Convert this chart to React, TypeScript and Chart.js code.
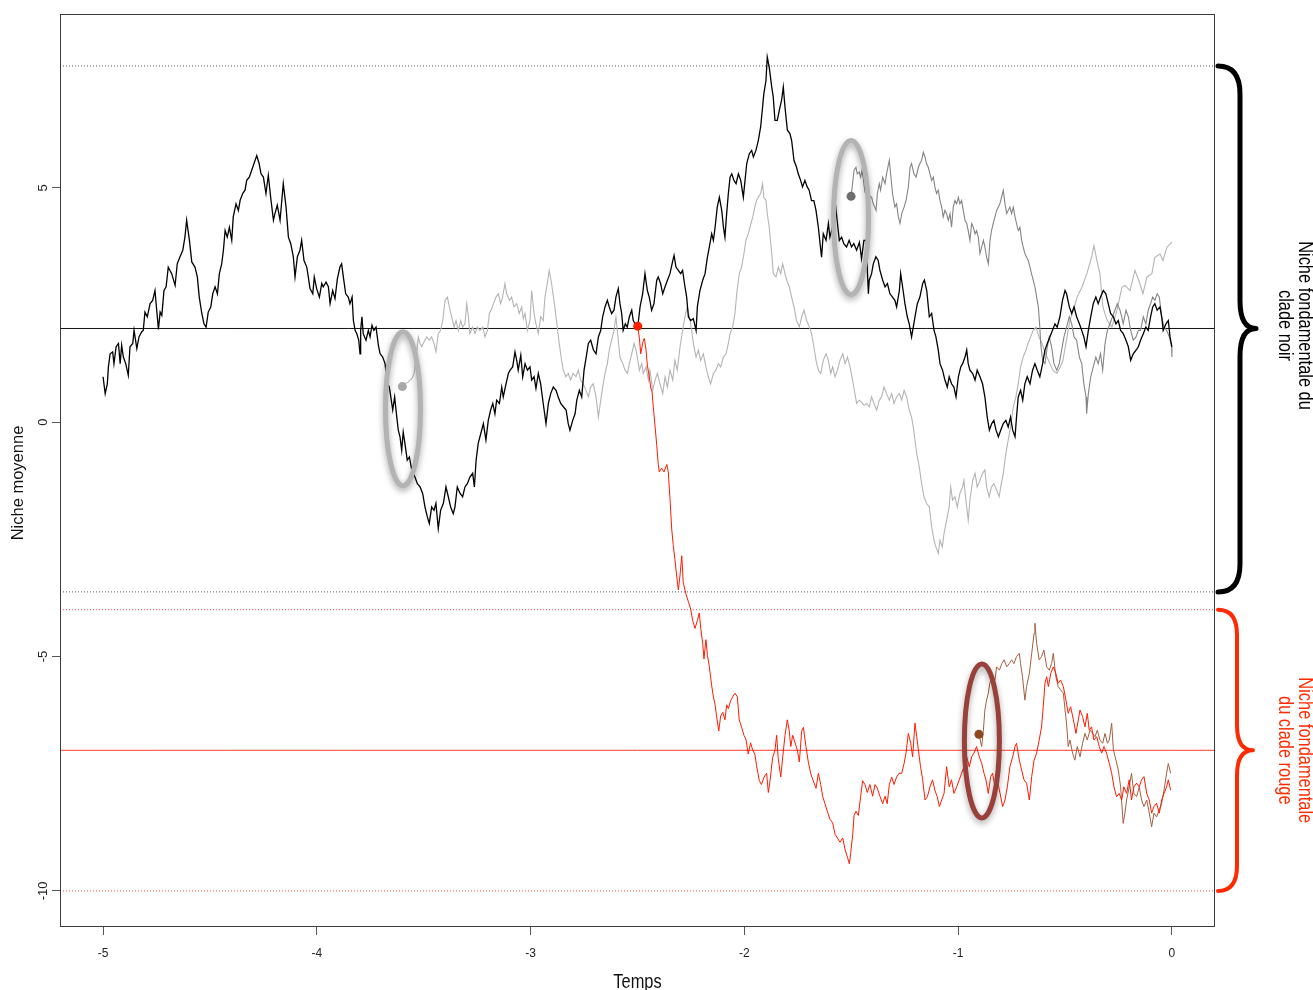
import React, { useEffect, useRef } from 'react';
import { Chart, registerables } from 'chart.js';

Chart.register(...registerables);

// ---------- axis settings ----------
const xTickValues = [-5, -4, -3, -2, -1, 0];
const yTickValues = [-10, -5, 0, 5];
const X_MIN = -5.2014;
const X_MAX = 0.2014;
const Y_MIN = -10.77;
const Y_MAX = 8.71;

// ---------- niche reference levels ----------
const blackNicheOptimum = 2.0;
const blackNicheBounds = [7.6, -3.62];
const redNicheOptimum = -7.0;
const redNicheBounds = [-4.0, -10.0];

// ---------- trait trajectories [time, mean niche] ----------
const blackLineage: [number, number][] = [
  [-5.0, 0.97], [-4.99, 0.61], [-4.98, 0.82], [-4.975, 1.18], [-4.967, 1.46], [-4.955, 1.5], [-4.949, 1.25], [-4.939, 1.61], [-4.928, 1.68], [-4.92, 1.25],
  [-4.913, 1.64], [-4.905, 1.39], [-4.894, 1.25], [-4.882, 1.0], [-4.874, 1.61], [-4.861, 1.68], [-4.855, 1.96], [-4.842, 1.57], [-4.832, 1.82], [-4.819, 1.93],
  [-4.812, 1.96], [-4.804, 2.35], [-4.793, 2.25], [-4.78, 2.53], [-4.768, 2.6], [-4.757, 2.81], [-4.749, 2.39], [-4.741, 1.98], [-4.733, 2.35], [-4.725, 2.28],
  [-4.715, 2.81], [-4.705, 2.89], [-4.695, 3.31], [-4.679, 3.17], [-4.663, 2.92], [-4.653, 3.38], [-4.64, 3.53], [-4.627, 3.67], [-4.617, 3.95], [-4.609, 4.31],
  [-4.596, 3.88], [-4.585, 3.42], [-4.57, 3.31], [-4.559, 3.1], [-4.55, 2.67], [-4.538, 2.32], [-4.528, 2.1], [-4.518, 2.03], [-4.508, 2.35], [-4.496, 2.46],
  [-4.487, 2.74], [-4.476, 2.89], [-4.465, 2.74], [-4.456, 3.17], [-4.445, 3.38], [-4.437, 3.67], [-4.429, 4.09], [-4.419, 3.95], [-4.409, 4.16], [-4.398, 3.88],
  [-4.391, 4.38], [-4.378, 4.66], [-4.367, 4.52], [-4.359, 4.73], [-4.347, 4.88], [-4.336, 4.95], [-4.328, 5.16], [-4.316, 5.23], [-4.305, 5.37], [-4.294, 5.52],
  [-4.281, 5.69], [-4.27, 5.52], [-4.261, 5.3], [-4.25, 5.23], [-4.238, 4.88], [-4.227, 5.27], [-4.216, 4.8], [-4.203, 4.31], [-4.196, 4.45], [-4.185, 4.63],
  [-4.172, 4.31], [-4.157, 5.09], [-4.144, 4.59], [-4.133, 3.95], [-4.122, 3.81], [-4.11, 3.53], [-4.102, 3.1], [-4.091, 3.53], [-4.079, 3.67], [-4.071, 3.88],
  [-4.06, 3.45], [-4.047, 3.31], [-4.04, 3.1], [-4.032, 2.85], [-4.019, 2.74], [-4.012, 3.1], [-4.001, 2.85], [-3.988, 2.67], [-3.977, 2.96], [-3.97, 2.89],
  [-3.957, 2.99], [-3.946, 2.89], [-3.938, 2.53], [-3.926, 2.81], [-3.915, 2.64], [-3.904, 3.06], [-3.892, 3.31], [-3.884, 3.38], [-3.876, 3.1], [-3.865, 2.74],
  [-3.853, 2.67], [-3.845, 2.53], [-3.835, 2.67], [-3.829, 2.17], [-3.821, 1.96], [-3.813, 1.89], [-3.804, 1.75], [-3.798, 1.46], [-3.795, 1.96], [-3.789, 2.25],
  [-3.783, 1.89], [-3.77, 1.75], [-3.759, 1.96], [-3.751, 1.82], [-3.742, 2.07], [-3.733, 1.96], [-3.723, 2.03], [-3.712, 1.64], [-3.704, 1.46], [-3.692, 1.39],
  [-3.681, 1.25], [-3.67, 0.82], [-3.661, 0.75], [-3.654, 0.54], [-3.645, 0.26], [-3.636, 0.54], [-3.626, 0.11], [-3.619, -0.17], [-3.611, -0.31], [-3.603, -0.6],
  [-3.596, -0.21], [-3.588, -0.45], [-3.577, -0.81], [-3.567, -0.74], [-3.556, -1.02], [-3.541, -1.17], [-3.53, -1.31], [-3.517, -1.38], [-3.505, -1.52], [-3.494, -1.81],
  [-3.483, -2.02], [-3.474, -2.16], [-3.463, -1.81], [-3.452, -1.88], [-3.443, -1.73], [-3.432, -2.27], [-3.421, -1.88], [-3.408, -1.73], [-3.396, -1.38], [-3.385, -1.59],
  [-3.374, -1.81], [-3.362, -1.95], [-3.354, -1.81], [-3.343, -1.38], [-3.33, -1.52], [-3.318, -1.59], [-3.307, -1.38], [-3.296, -1.31], [-3.284, -1.17], [-3.271, -1.09],
  [-3.263, -1.38], [-3.255, -0.81], [-3.245, -0.45], [-3.233, -0.24], [-3.221, -0.03], [-3.209, -0.38], [-3.198, 0.04], [-3.187, 0.26], [-3.177, 0.4], [-3.167, 0.18],
  [-3.159, 0.47], [-3.146, 0.4], [-3.135, 0.75], [-3.128, 0.54], [-3.115, 0.82], [-3.104, 1.04], [-3.096, 1.11], [-3.084, 1.18], [-3.073, 1.5], [-3.065, 1.32],
  [-3.058, 1.11], [-3.046, 1.43], [-3.037, 0.97], [-3.026, 1.25], [-3.015, 1.11], [-3.003, 1.18], [-2.995, 0.9], [-2.984, 0.97], [-2.975, 0.72], [-2.964, 1.04],
  [-2.953, 0.82], [-2.941, 0.4], [-2.928, -0.03], [-2.917, 0.4], [-2.906, 0.61], [-2.894, 0.75], [-2.881, 0.68], [-2.871, 0.54], [-2.859, 0.4], [-2.847, 0.33],
  [-2.834, 0.26], [-2.824, -0.03], [-2.816, -0.17], [-2.803, 0.04], [-2.792, 0.18], [-2.784, 0.47], [-2.772, 0.68], [-2.761, 0.54], [-2.75, 1.11], [-2.74, 1.39],
  [-2.73, 1.68], [-2.719, 1.75], [-2.706, 1.54], [-2.694, 1.46], [-2.683, 1.82], [-2.672, 1.96], [-2.663, 2.25], [-2.652, 2.46], [-2.641, 2.6], [-2.632, 2.46],
  [-2.621, 2.32], [-2.61, 2.39], [-2.601, 2.67], [-2.59, 2.85], [-2.582, 2.53], [-2.574, 2.32], [-2.567, 1.96], [-2.557, 2.1], [-2.548, 2.03], [-2.538, 2.25],
  [-2.527, 2.39], [-2.52, 2.17], [-2.507, 2.07], [-2.499, 2.03], [-2.488, 2.46], [-2.476, 2.74], [-2.465, 3.17], [-2.454, 2.81], [-2.445, 2.67], [-2.434, 2.39],
  [-2.423, 2.53], [-2.41, 3.03], [-2.403, 3.1], [-2.392, 2.96], [-2.382, 2.74], [-2.371, 2.89], [-2.36, 3.03], [-2.348, 3.17], [-2.335, 3.45], [-2.329, 3.56],
  [-2.32, 3.31], [-2.309, 3.24], [-2.298, 3.17], [-2.289, 3.24], [-2.278, 2.89], [-2.27, 2.67], [-2.262, 2.25], [-2.251, 2.17], [-2.239, 2.21], [-2.226, 1.96],
  [-2.22, 2.46], [-2.208, 2.81], [-2.195, 3.03], [-2.184, 3.17], [-2.173, 3.52], [-2.164, 3.74], [-2.153, 4.02], [-2.145, 3.88], [-2.137, 4.16], [-2.127, 4.59],
  [-2.117, 4.8], [-2.106, 4.52], [-2.098, 4.16], [-2.091, 3.95], [-2.083, 4.45], [-2.075, 4.88], [-2.067, 5.23], [-2.059, 5.3], [-2.049, 5.16], [-2.039, 5.09],
  [-2.028, 5.3], [-2.017, 5.16], [-2.005, 4.8], [-1.997, 5.16], [-1.989, 5.52], [-1.977, 5.73], [-1.966, 5.8], [-1.958, 5.66], [-1.946, 5.8], [-1.935, 6.01],
  [-1.924, 6.3], [-1.915, 6.72], [-1.909, 7.01], [-1.899, 7.29], [-1.893, 7.79], [-1.884, 7.58], [-1.872, 7.15], [-1.865, 6.94], [-1.857, 6.44], [-1.846, 6.44],
  [-1.837, 6.65], [-1.826, 6.87], [-1.818, 7.15], [-1.81, 6.72], [-1.799, 6.23], [-1.787, 6.16], [-1.779, 6.01], [-1.768, 5.59], [-1.756, 5.44], [-1.748, 5.3],
  [-1.737, 5.16], [-1.728, 5.02], [-1.717, 5.16], [-1.706, 5.02], [-1.697, 4.95], [-1.686, 4.73], [-1.675, 4.73], [-1.665, 4.52], [-1.654, 4.16], [-1.646, 3.81],
  [-1.639, 3.52], [-1.631, 4.02], [-1.618, 3.88], [-1.607, 4.24], [-1.6, 3.95], [-1.585, 4.2], [-1.572, 4.56], [-1.556, 3.88], [-1.545, 3.95], [-1.535, 3.81],
  [-1.522, 3.74], [-1.51, 3.88], [-1.499, 3.74], [-1.488, 3.81], [-1.475, 3.67], [-1.462, 3.84], [-1.452, 3.49], [-1.441, 3.88], [-1.431, 3.88], [-1.42, 2.74],
  [-1.416, 3.03], [-1.405, 3.17], [-1.397, 3.38], [-1.385, 3.53], [-1.374, 3.45], [-1.366, 3.24], [-1.353, 3.03], [-1.342, 2.89], [-1.331, 2.96], [-1.319, 2.74],
  [-1.307, 2.67], [-1.296, 2.6], [-1.288, 2.46], [-1.275, 2.81], [-1.269, 3.17], [-1.26, 2.89], [-1.249, 2.53], [-1.238, 2.25], [-1.229, 2.1], [-1.218, 1.82],
  [-1.21, 2.03], [-1.202, 2.25], [-1.191, 2.53], [-1.179, 2.67], [-1.166, 2.96], [-1.158, 3.03], [-1.147, 2.81], [-1.135, 2.25], [-1.124, 2.32], [-1.113, 1.96],
  [-1.104, 1.82], [-1.093, 1.54], [-1.085, 1.25], [-1.073, 1.11], [-1.062, 0.9], [-1.051, 0.75], [-1.042, 0.97], [-1.031, 0.82], [-1.02, 0.75], [-1.01, 0.54],
  [-0.999, 0.97], [-0.988, 1.18], [-0.979, 1.25], [-0.968, 1.39], [-0.96, 1.54], [-0.953, 1.25], [-0.945, 1.11], [-0.932, 1.04], [-0.921, 0.9], [-0.911, 1.11],
  [-0.898, 0.97], [-0.886, 0.82], [-0.875, 0.54], [-0.864, 0.11], [-0.854, -0.17], [-0.843, -0.03], [-0.833, 0.04], [-0.823, -0.17], [-0.812, -0.31], [-0.801, -0.17],
  [-0.789, -0.03], [-0.777, 0.04], [-0.766, -0.1], [-0.755, 0.11], [-0.745, -0.17], [-0.734, -0.31], [-0.727, 0.11], [-0.719, 0.54], [-0.708, 0.68], [-0.698, 0.47],
  [-0.688, 0.82], [-0.677, 0.97], [-0.664, 0.82], [-0.652, 1.11], [-0.641, 1.25], [-0.63, 1.11], [-0.618, 0.97], [-0.605, 1.25], [-0.594, 1.54], [-0.583, 1.68],
  [-0.571, 1.82], [-0.559, 1.96], [-0.547, 2.1], [-0.537, 2.03], [-0.524, 2.25], [-0.512, 2.6], [-0.5, 2.81], [-0.493, 2.74], [-0.48, 2.46], [-0.469, 2.32],
  [-0.458, 2.46], [-0.446, 2.25], [-0.433, 2.1], [-0.422, 1.96], [-0.412, 1.82], [-0.402, 1.61], [-0.391, 1.96], [-0.38, 2.25], [-0.368, 2.53], [-0.356, 2.67],
  [-0.345, 2.53], [-0.334, 2.67], [-0.321, 2.81], [-0.309, 2.74], [-0.298, 2.53], [-0.287, 2.32], [-0.274, 2.25], [-0.262, 2.1], [-0.251, 2.17], [-0.24, 1.96],
  [-0.228, 1.89], [-0.215, 1.75], [-0.204, 1.61], [-0.193, 1.32], [-0.181, 1.46], [-0.168, 1.54], [-0.157, 1.61], [-0.147, 1.75], [-0.134, 1.89], [-0.122, 2.03],
  [-0.111, 1.96], [-0.1, 2.25], [-0.09, 2.46], [-0.08, 2.53], [-0.069, 2.39], [-0.056, 2.46], [-0.048, 2.25], [-0.041, 1.96], [-0.028, 2.1], [-0.017, 2.17],
  [-0.009, 1.82], [0.0, 1.61],
];

const lightGreyLineage: [number, number][] = [
  [-3.603, 0.75], [-3.588, 0.82], [-3.572, 0.86], [-3.556, 0.93], [-3.545, 1.04], [-3.536, 1.39], [-3.525, 1.82], [-3.517, 1.68], [-3.509, 1.61], [-3.499, 1.71],
  [-3.486, 1.82], [-3.474, 1.75], [-3.463, 1.82], [-3.452, 1.68], [-3.443, 1.5], [-3.432, 1.89], [-3.421, 1.96], [-3.411, 2.17], [-3.4, 2.6], [-3.389, 2.67],
  [-3.38, 2.46], [-3.369, 2.25], [-3.358, 2.03], [-3.349, 2.17], [-3.338, 1.96], [-3.327, 2.17], [-3.318, 2.03], [-3.307, 2.1], [-3.299, 2.53], [-3.291, 2.25],
  [-3.284, 1.89], [-3.271, 2.03], [-3.26, 1.89], [-3.249, 2.03], [-3.237, 1.96], [-3.224, 2.03], [-3.213, 1.82], [-3.202, 1.96], [-3.193, 2.32], [-3.182, 2.42],
  [-3.174, 2.53], [-3.162, 2.67], [-3.151, 2.74], [-3.14, 2.53], [-3.131, 2.67], [-3.12, 2.96], [-3.112, 2.74], [-3.099, 2.6], [-3.089, 2.67], [-3.078, 2.46],
  [-3.065, 2.53], [-3.053, 2.32], [-3.042, 2.46], [-3.034, 2.21], [-3.026, 2.32], [-3.015, 1.96], [-3.003, 2.17], [-2.995, 2.81], [-2.984, 2.32], [-2.975, 2.1],
  [-2.964, 1.89], [-2.953, 2.25], [-2.941, 2.17], [-2.933, 2.67], [-2.922, 2.96], [-2.913, 3.24], [-2.902, 2.96], [-2.891, 2.6], [-2.879, 2.17], [-2.866, 1.68],
  [-2.855, 1.32], [-2.847, 1.11], [-2.835, 0.97], [-2.824, 1.04], [-2.813, 0.9], [-2.801, 1.04], [-2.788, 0.97], [-2.777, 1.11], [-2.766, 0.9], [-2.754, 0.82],
  [-2.741, 0.68], [-2.73, 0.54], [-2.719, 0.75], [-2.707, 0.82], [-2.694, 0.54], [-2.683, 0.11], [-2.672, 0.47], [-2.663, 0.75], [-2.652, 1.04], [-2.641, 1.25],
  [-2.632, 1.54], [-2.621, 1.75], [-2.61, 1.96], [-2.601, 2.25], [-2.59, 1.75], [-2.582, 1.39], [-2.569, 1.25], [-2.558, 1.11], [-2.547, 1.04], [-2.538, 1.25],
  [-2.527, 1.46], [-2.516, 1.68], [-2.507, 1.54], [-2.501, 1.39], [-2.491, 1.11], [-2.48, 1.25], [-2.473, 1.04], [-2.46, 1.18], [-2.449, 0.9], [-2.442, 1.11],
  [-2.429, 0.68], [-2.418, 0.9], [-2.407, 1.04], [-2.395, 0.82], [-2.382, 0.61], [-2.371, 0.97], [-2.36, 0.75], [-2.348, 1.11], [-2.335, 0.9], [-2.325, 1.32],
  [-2.314, 1.11], [-2.301, 1.61], [-2.289, 1.96], [-2.278, 2.25], [-2.267, 2.46], [-2.257, 2.25], [-2.247, 1.96], [-2.236, 1.61], [-2.226, 1.39], [-2.215, 1.54],
  [-2.205, 1.32], [-2.192, 1.46], [-2.18, 1.18], [-2.169, 0.97], [-2.158, 0.82], [-2.145, 1.04], [-2.133, 1.11], [-2.122, 1.25], [-2.111, 1.18], [-2.098, 1.39],
  [-2.086, 1.46], [-2.075, 1.68], [-2.067, 1.89], [-2.055, 2.03], [-2.044, 2.32], [-2.036, 2.74], [-2.024, 3.17], [-2.013, 3.31], [-2.002, 3.6], [-1.993, 3.88],
  [-1.982, 4.02], [-1.974, 4.16], [-1.961, 4.38], [-1.951, 4.59], [-1.943, 4.73], [-1.935, 4.8], [-1.924, 4.88], [-1.915, 5.09], [-1.909, 4.8], [-1.899, 4.73],
  [-1.893, 4.45], [-1.884, 4.16], [-1.872, 3.6], [-1.865, 3.17], [-1.852, 3.1], [-1.841, 3.31], [-1.83, 3.17], [-1.821, 3.38], [-1.81, 3.17], [-1.802, 3.03],
  [-1.79, 2.89], [-1.779, 2.67], [-1.768, 2.46], [-1.756, 2.17], [-1.743, 2.03], [-1.732, 2.25], [-1.721, 2.39], [-1.709, 2.17], [-1.696, 2.03], [-1.686, 1.89],
  [-1.675, 1.61], [-1.665, 1.32], [-1.654, 1.11], [-1.643, 1.04], [-1.631, 1.32], [-1.618, 1.46], [-1.607, 1.32], [-1.596, 1.04], [-1.587, 1.18], [-1.576, 0.97],
  [-1.565, 1.11], [-1.553, 1.32], [-1.54, 1.46], [-1.529, 1.25], [-1.518, 1.39], [-1.506, 1.18], [-1.494, 0.9], [-1.483, 0.61], [-1.475, 0.4], [-1.462, 0.47],
  [-1.452, 0.43], [-1.441, 0.36], [-1.428, 0.4], [-1.416, 0.33], [-1.405, 0.54], [-1.394, 0.4], [-1.381, 0.26], [-1.369, 0.47], [-1.358, 0.54], [-1.347, 0.75],
  [-1.335, 0.61], [-1.322, 0.47], [-1.311, 0.61], [-1.3, 0.4], [-1.288, 0.54], [-1.275, 0.61], [-1.264, 0.47], [-1.253, 0.68], [-1.241, 0.54], [-1.229, 0.26],
  [-1.218, 0.11], [-1.21, -0.1], [-1.202, -0.38], [-1.194, -0.67], [-1.182, -0.95], [-1.171, -1.31], [-1.16, -1.59], [-1.148, -1.73], [-1.135, -1.81], [-1.124, -2.23],
  [-1.113, -2.52], [-1.104, -2.66], [-1.093, -2.8], [-1.085, -2.52], [-1.074, -2.66], [-1.066, -2.37], [-1.054, -2.09], [-1.042, -1.81], [-1.035, -1.38], [-1.026, -1.66],
  [-1.015, -1.59], [-1.004, -1.81], [-0.992, -1.52], [-0.979, -1.38], [-0.973, -1.24], [-0.964, -1.66], [-0.953, -2.09], [-0.945, -1.66], [-0.932, -1.24], [-0.921, -1.09],
  [-0.911, -1.38], [-0.898, -1.24], [-0.886, -1.09], [-0.875, -1.02], [-0.867, -1.38], [-0.855, -1.59], [-0.844, -1.38], [-0.833, -1.31], [-0.82, -1.45], [-0.808, -1.59],
  [-0.801, -1.38], [-0.789, -1.09], [-0.777, -0.67], [-0.766, -0.38], [-0.755, -0.1], [-0.742, 0.33], [-0.73, 0.54], [-0.719, 0.82], [-0.708, 1.18], [-0.696, 1.39],
  [-0.683, 1.54], [-0.673, 1.68], [-0.661, 1.82], [-0.649, 1.96], [-0.636, 2.03], [-0.622, 1.82], [-0.608, 1.68], [-0.59, 1.45], [-0.571, 1.25], [-0.555, 1.1],
  [-0.538, 1.04], [-0.52, 1.2], [-0.51, 1.32], [-0.491, 1.81], [-0.477, 2.18], [-0.46, 2.4], [-0.444, 2.67], [-0.421, 2.88], [-0.398, 3.17], [-0.376, 3.52],
  [-0.365, 3.77], [-0.351, 3.45], [-0.337, 3.17], [-0.323, 2.46], [-0.304, 2.18], [-0.281, 2.03], [-0.257, 2.39], [-0.234, 2.88], [-0.22, 2.92], [-0.196, 2.81],
  [-0.173, 3.24], [-0.15, 2.96], [-0.136, 2.74], [-0.117, 3.1], [-0.094, 3.17], [-0.08, 3.52], [-0.056, 3.59], [-0.042, 3.45], [-0.023, 3.74], [0.0, 3.84],
];

const darkGreyLineage: [number, number][] = [
  [-1.501, 4.82], [-1.494, 5.09], [-1.487, 5.37], [-1.478, 5.44], [-1.472, 5.3], [-1.463, 5.34], [-1.456, 5.23], [-1.45, 5.37], [-1.444, 5.2], [-1.436, 4.91],
  [-1.405, 4.8], [-1.397, 4.66], [-1.384, 4.52], [-1.378, 4.88], [-1.369, 5.09], [-1.363, 4.95], [-1.353, 5.23], [-1.342, 5.09], [-1.335, 5.3], [-1.322, 5.59],
  [-1.316, 5.3], [-1.307, 4.88], [-1.296, 4.59], [-1.288, 4.66], [-1.28, 4.38], [-1.272, 4.24], [-1.264, 4.45], [-1.253, 4.59], [-1.244, 4.73], [-1.233, 5.02],
  [-1.225, 5.44], [-1.218, 5.52], [-1.207, 5.3], [-1.197, 5.23], [-1.186, 5.44], [-1.179, 5.52], [-1.171, 5.59], [-1.163, 5.76], [-1.155, 5.66], [-1.148, 5.52],
  [-1.14, 5.44], [-1.132, 5.3], [-1.124, 5.16], [-1.116, 5.23], [-1.109, 5.02], [-1.101, 4.88], [-1.093, 4.95], [-1.085, 4.73], [-1.077, 4.59], [-1.07, 4.38],
  [-1.062, 4.52], [-1.054, 4.45], [-1.046, 4.31], [-1.038, 4.45], [-1.031, 4.16], [-1.023, 4.59], [-1.015, 4.73], [-1.007, 4.66], [-0.999, 4.8], [-0.992, 4.66],
  [-0.984, 4.73], [-0.976, 4.52], [-0.968, 4.31], [-0.96, 4.24], [-0.953, 4.09], [-0.945, 3.88], [-0.937, 4.24], [-0.929, 4.16], [-0.921, 4.02], [-0.914, 4.09],
  [-0.906, 3.95], [-0.898, 3.6], [-0.89, 3.74], [-0.882, 3.88], [-0.875, 3.74], [-0.867, 3.52], [-0.859, 3.38], [-0.851, 3.88], [-0.844, 4.09], [-0.836, 4.24],
  [-0.828, 4.38], [-0.82, 4.52], [-0.812, 4.59], [-0.805, 4.66], [-0.797, 4.8], [-0.789, 4.95], [-0.781, 4.66], [-0.773, 4.45], [-0.766, 4.52], [-0.758, 4.59],
  [-0.75, 4.45], [-0.742, 4.59], [-0.734, 4.38], [-0.727, 4.24], [-0.719, 4.09], [-0.711, 4.16], [-0.703, 3.88], [-0.696, 3.74], [-0.688, 3.6], [-0.68, 3.52],
  [-0.672, 3.45], [-0.664, 3.31], [-0.657, 3.17], [-0.649, 3.03], [-0.641, 2.89], [-0.633, 2.67], [-0.625, 2.46], [-0.618, 2.03], [-0.614, 1.68], [-0.605, 1.32],
  [-0.594, 1.25], [-0.583, 1.61], [-0.574, 1.82], [-0.563, 1.61], [-0.552, 1.25], [-0.539, 1.11], [-0.527, 1.25], [-0.516, 1.54], [-0.505, 1.82], [-0.493, 2.03],
  [-0.48, 2.25], [-0.469, 2.1], [-0.458, 1.82], [-0.446, 1.75], [-0.433, 1.39], [-0.422, 1.25], [-0.412, 0.82], [-0.402, 0.54], [-0.399, 0.18], [-0.391, 0.61],
  [-0.38, 0.97], [-0.368, 1.18], [-0.356, 1.39], [-0.345, 1.25], [-0.334, 1.46], [-0.324, 1.11], [-0.313, 1.68], [-0.302, 1.96], [-0.29, 2.1], [-0.278, 2.25],
  [-0.267, 2.39], [-0.256, 2.53], [-0.243, 2.39], [-0.235, 2.25], [-0.228, 2.1], [-0.215, 2.39], [-0.204, 2.25], [-0.193, 1.96], [-0.181, 1.75], [-0.168, 1.82],
  [-0.157, 1.96], [-0.147, 1.96], [-0.134, 2.25], [-0.122, 2.1], [-0.111, 2.39], [-0.1, 2.53], [-0.09, 2.67], [-0.08, 2.6], [-0.069, 2.74], [-0.059, 2.67],
  [-0.048, 2.25], [-0.037, 2.03], [-0.025, 1.96], [-0.012, 1.82], [-0.002, 1.61], [0.0, 1.39],
];

const redLineage: [number, number][] = [
  [-2.499, 2.05], [-2.491, 1.79], [-2.485, 1.46], [-2.475, 1.71], [-2.468, 1.79], [-2.46, 1.54], [-2.454, 1.22], [-2.445, 0.97], [-2.438, 0.73], [-2.432, 0.65],
  [-2.426, 0.32], [-2.418, -0.08], [-2.41, -0.49], [-2.403, -0.9], [-2.398, -1.06], [-2.387, -0.98], [-2.376, -1.06], [-2.363, -0.9], [-2.356, -1.06], [-2.348, -1.63],
  [-2.34, -2.28], [-2.333, -2.61], [-2.325, -2.93], [-2.317, -3.26], [-2.309, -3.58], [-2.301, -3.26], [-2.293, -2.85], [-2.286, -3.42], [-2.273, -3.67], [-2.262, -3.83],
  [-2.251, -3.99], [-2.242, -4.23], [-2.231, -4.4], [-2.22, -4.23], [-2.211, -4.07], [-2.204, -4.4], [-2.195, -4.72], [-2.189, -5.05], [-2.18, -4.64], [-2.173, -4.97],
  [-2.164, -5.21], [-2.153, -5.62], [-2.145, -5.86], [-2.137, -6.03], [-2.13, -6.27], [-2.12, -6.59], [-2.111, -6.27], [-2.101, -6.19], [-2.091, -6.35], [-2.083, -6.03],
  [-2.075, -6.11], [-2.064, -5.94], [-2.055, -5.86], [-2.044, -5.78], [-2.033, -5.86], [-2.024, -6.35], [-2.013, -6.51], [-2.002, -6.68], [-1.993, -6.76], [-1.982, -7.08],
  [-1.971, -6.84], [-1.961, -7.0], [-1.951, -7.08], [-1.943, -7.33], [-1.93, -7.65], [-1.92, -7.73], [-1.908, -7.57], [-1.896, -7.49], [-1.888, -7.9], [-1.88, -7.65],
  [-1.868, -7.16], [-1.857, -7.0], [-1.849, -6.68], [-1.842, -7.16], [-1.83, -7.57], [-1.821, -7.16], [-1.81, -6.68], [-1.799, -6.35], [-1.79, -6.59], [-1.783, -6.92],
  [-1.774, -6.68], [-1.763, -6.84], [-1.752, -7.0], [-1.743, -7.25], [-1.732, -6.59], [-1.724, -6.51], [-1.712, -6.92], [-1.701, -7.25], [-1.69, -7.49], [-1.678, -7.65],
  [-1.665, -7.81], [-1.654, -7.49], [-1.643, -7.73], [-1.634, -7.98], [-1.623, -8.14], [-1.612, -8.3], [-1.6, -8.47], [-1.587, -8.55], [-1.576, -8.79], [-1.565, -8.87],
  [-1.553, -8.96], [-1.54, -8.87], [-1.529, -9.12], [-1.518, -9.28], [-1.509, -9.42], [-1.503, -9.2], [-1.493, -8.79], [-1.487, -8.39], [-1.478, -8.3], [-1.467, -8.39],
  [-1.456, -7.98], [-1.447, -7.65], [-1.436, -7.73], [-1.425, -7.9], [-1.413, -7.73], [-1.4, -7.98], [-1.389, -7.73], [-1.378, -7.81], [-1.366, -7.98], [-1.353, -8.14],
  [-1.342, -7.98], [-1.332, -8.14], [-1.322, -7.73], [-1.311, -7.57], [-1.3, -7.73], [-1.288, -7.57], [-1.276, -7.49], [-1.264, -7.49], [-1.253, -7.28], [-1.244, -7.06],
  [-1.233, -6.64], [-1.222, -6.85], [-1.213, -7.14], [-1.202, -6.42], [-1.194, -6.71], [-1.186, -6.99], [-1.176, -7.35], [-1.166, -7.63], [-1.155, -8.06], [-1.144, -7.99],
  [-1.132, -7.78], [-1.12, -7.63], [-1.109, -7.85], [-1.098, -7.99], [-1.088, -8.2], [-1.077, -8.06], [-1.066, -7.92], [-1.054, -7.35], [-1.042, -7.78], [-1.031, -7.63],
  [-1.02, -7.92], [-1.007, -7.78], [-0.995, -7.63], [-0.984, -7.49], [-0.973, -7.35], [-0.96, -7.14], [-0.948, -7.35], [-0.937, -7.14], [-0.926, -7.06], [-0.914, -6.92],
  [-0.901, -7.14], [-0.89, -7.28], [-0.879, -7.49], [-0.87, -7.63], [-0.859, -7.92], [-0.848, -7.56], [-0.839, -7.49], [-0.828, -7.78], [-0.817, -7.63], [-0.804, -7.92],
  [-0.792, -8.2], [-0.781, -8.06], [-0.77, -7.78], [-0.758, -7.35], [-0.745, -7.14], [-0.734, -6.92], [-0.727, -6.85], [-0.714, -7.21], [-0.703, -7.42], [-0.692, -7.63],
  [-0.68, -7.7], [-0.667, -8.06], [-0.656, -7.56], [-0.645, -7.21], [-0.633, -7.06], [-0.621, -6.78], [-0.61, -6.5], [-0.602, -6.07], [-0.594, -5.57], [-0.586, -5.43],
  [-0.578, -5.64], [-0.567, -5.36], [-0.555, -5.22], [-0.543, -5.36], [-0.532, -5.57], [-0.521, -5.5], [-0.508, -5.64], [-0.496, -5.93], [-0.485, -6.21], [-0.474, -6.07],
  [-0.461, -6.35], [-0.449, -6.64], [-0.438, -6.35], [-0.43, -6.14], [-0.418, -6.28], [-0.407, -6.5], [-0.396, -6.21], [-0.387, -6.57], [-0.376, -6.5], [-0.365, -6.78],
  [-0.352, -6.71], [-0.34, -6.92], [-0.329, -7.06], [-0.318, -6.92], [-0.306, -7.06], [-0.293, -7.28], [-0.282, -7.49], [-0.271, -7.78], [-0.259, -7.99], [-0.247, -7.92],
  [-0.235, -8.06], [-0.225, -7.78], [-0.212, -7.92], [-0.2, -7.63], [-0.189, -8.06], [-0.178, -7.78], [-0.165, -7.7], [-0.153, -7.78], [-0.142, -7.63], [-0.131, -7.56],
  [-0.118, -7.92], [-0.106, -8.06], [-0.095, -8.34], [-0.084, -8.2], [-0.072, -8.13], [-0.059, -8.34], [-0.048, -8.06], [-0.037, -7.92], [-0.025, -7.78], [-0.017, -7.63],
  [-0.006, -7.85],
];

const brownLineage: [number, number][] = [
  [-0.903, -6.66], [-0.89, -6.92], [-0.882, -6.57], [-0.875, -6.14], [-0.867, -5.93], [-0.859, -5.78], [-0.852, -5.57], [-0.839, -5.43], [-0.828, -5.5], [-0.82, -5.22],
  [-0.807, -5.29], [-0.796, -5.15], [-0.785, -5.07], [-0.773, -5.22], [-0.761, -5.15], [-0.75, -5.07], [-0.739, -5.15], [-0.727, -5.0], [-0.714, -4.93], [-0.708, -5.15],
  [-0.699, -5.43], [-0.688, -5.93], [-0.68, -5.64], [-0.667, -5.36], [-0.656, -4.93], [-0.645, -4.51], [-0.641, -4.29], [-0.633, -4.72], [-0.621, -5.07], [-0.61, -5.0],
  [-0.599, -4.86], [-0.586, -5.22], [-0.574, -5.29], [-0.563, -5.15], [-0.555, -4.93], [-0.543, -5.43], [-0.532, -5.64], [-0.521, -5.71], [-0.508, -5.78], [-0.5, -6.14],
  [-0.493, -6.42], [-0.485, -6.92], [-0.477, -6.78], [-0.465, -7.06], [-0.454, -7.21], [-0.443, -6.92], [-0.43, -7.14], [-0.418, -6.85], [-0.407, -6.64], [-0.396, -6.78],
  [-0.383, -6.57], [-0.371, -6.64], [-0.36, -6.71], [-0.349, -6.57], [-0.337, -6.78], [-0.324, -6.85], [-0.313, -6.64], [-0.302, -6.85], [-0.293, -6.78], [-0.282, -6.42],
  [-0.274, -6.99], [-0.262, -7.21], [-0.251, -7.42], [-0.24, -7.78], [-0.228, -8.56], [-0.22, -8.34], [-0.212, -8.06], [-0.2, -7.78], [-0.189, -7.49], [-0.178, -7.92],
  [-0.165, -7.99], [-0.153, -7.78], [-0.142, -8.06], [-0.131, -8.2], [-0.118, -8.06], [-0.106, -8.34], [-0.095, -8.63], [-0.084, -8.34], [-0.072, -8.42], [-0.059, -8.27],
  [-0.048, -8.13], [-0.037, -7.85], [-0.025, -7.49], [-0.017, -7.28], [-0.006, -7.49],
];

// speciation events (start of each new lineage)
const speciationPoints: [number, number][] = [[-3.6, 0.76], [-2.499, 2.05], [-1.501, 4.82], [-0.903, -6.66]];
const speciationColors = ['#a8a8a8', '#ff1e00', '#6e6e6e', '#8c4a1e'];

// highlight rings (centre in data units)
const rings = [
  { x: -3.597, y: 0.29, color: '#b3b3b3' },
  { x: -1.501, y: 4.37, color: '#b3b3b3' },
  { x: -0.889, y: -6.8, color: '#984039' },
];

const SANS = '"Liberation Sans", Arial, Helvetica, sans-serif';

const toXY = (pts: [number, number][]) => pts.map(([x, y]) => ({ x, y }));

function drawBrace(ctx: CanvasRenderingContext2D, xEnd: number, xStem: number, xTip: number, yTop: number, yMid: number, yBot: number, r: number) {
  ctx.beginPath();
  ctx.moveTo(xEnd, yTop);
  ctx.quadraticCurveTo(xStem, yTop, xStem, yTop + r);
  ctx.lineTo(xStem, yMid - r);
  ctx.quadraticCurveTo(xStem, yMid, xTip, yMid);
  ctx.quadraticCurveTo(xStem, yMid, xStem, yMid + r);
  ctx.lineTo(xStem, yBot - r);
  ctx.quadraticCurveTo(xStem, yBot, xEnd, yBot);
  ctx.stroke();
}

// condensed-looking text: horizontal squeeze along the reading direction
function condensedText(ctx: CanvasRenderingContext2D, text: string, x: number, y: number, angle: number) {
  ctx.save();
  ctx.translate(x, y);
  ctx.rotate(angle);
  ctx.scale(0.82, 1);
  ctx.fillText(text, 0, 0);
  ctx.restore();
}

const decorations = {
  id: 'decorations',
  afterDatasetsDraw(chart: any) {
    const { ctx, chartArea: ca, scales } = chart;
    const xs = scales.x;
    const ys = scales.y;
    ctx.save();
    // plot frame
    ctx.strokeStyle = '#3c3c3c';
    ctx.lineWidth = 1;
    ctx.strokeRect(ca.left + 0.5, ca.top + 0.5, ca.right - ca.left - 1, ca.bottom - ca.top - 1);

    // rings
    for (const r of rings) {
      const cx = xs.getPixelForValue(r.x);
      const cy = ys.getPixelForValue(r.y);
      ctx.save();
      ctx.shadowColor = 'rgba(0,0,0,0.35)';
      ctx.shadowBlur = 6;
      ctx.shadowOffsetY = 3;
      ctx.strokeStyle = r.color;
      ctx.lineWidth = 5;
      ctx.beginPath();
      ctx.ellipse(cx, cy, 17.5, 77, 0, 0, Math.PI * 2);
      ctx.stroke();
      ctx.restore();
    }

    // braces
    ctx.lineCap = 'round';
    ctx.lineJoin = 'round';
    ctx.strokeStyle = '#000';
    ctx.lineWidth = 5;
    drawBrace(ctx, ca.right + 3, ca.right + 25, ca.right + 41,
      ys.getPixelForValue(blackNicheBounds[0]), ys.getPixelForValue(blackNicheOptimum), ys.getPixelForValue(blackNicheBounds[1]), 28);
    ctx.strokeStyle = '#ff2a00';
    ctx.lineWidth = 4;
    drawBrace(ctx, ca.right + 3, ca.right + 22, ca.right + 38,
      ys.getPixelForValue(redNicheBounds[0]), ys.getPixelForValue(redNicheOptimum), ys.getPixelForValue(redNicheBounds[1]), 25);

    // side texts
    const sideText = (lines: string[], yMid: number, color: string) => {
      ctx.save();
      ctx.fillStyle = color;
      ctx.font = `20px ${SANS}`;
      ctx.textAlign = 'center';
      ctx.textBaseline = 'middle';
      lines.forEach((t, i) => condensedText(ctx, t, ca.right + 90 - i * 20, yMid, Math.PI / 2));
      ctx.restore();
    };
    sideText(['Niche fondamentale du', 'clade noir'], ys.getPixelForValue(blackNicheOptimum) - 3, '#000');
    sideText(['Niche fondamentale', 'du clade rouge'], ys.getPixelForValue(redNicheOptimum), '#ff2a00');

    // axis titles
    ctx.fillStyle = '#111';
    ctx.textAlign = 'center';
    ctx.textBaseline = 'alphabetic';
    ctx.font = `20px ${SANS}`;
    condensedText(ctx, 'Temps', (ca.left + ca.right) / 2, ca.bottom + 61, 0);
    ctx.save();
    ctx.font = `16.5px ${SANS}`;
    ctx.textBaseline = 'middle';
    ctx.translate(18, ca.top + 469);
    ctx.rotate(-Math.PI / 2);
    ctx.fillText('Niche moyenne', 0, 0);
    ctx.restore();

    ctx.restore();
  },
};

export default function App() {
  const ref = useRef<HTMLCanvasElement>(null);
  useEffect(() => {
    const canvas = ref.current;
    if (!canvas) return;
    const line = (data: [number, number][], color: string, width = 1) => ({
      data: toXY(data),
      showLine: true,
      borderColor: color,
      borderWidth: width,
      pointRadius: 0,
      pointHoverRadius: 0,
      fill: false,
      tension: 0,
    });
    const hline = (v: number, color: string, dash: number[]) => ({
      data: [{ x: X_MIN, y: v }, { x: X_MAX, y: v }],
      showLine: true,
      borderColor: color,
      borderWidth: 1,
      borderDash: dash,
      pointRadius: 0,
      fill: false,
    });
    const chart = new Chart(canvas, {
      type: 'scatter',
      data: {
        datasets: [
          {
            data: toXY(speciationPoints),
            showLine: false,
            pointRadius: 4.5,
            pointBackgroundColor: speciationColors,
            pointBorderWidth: 0,
          } as any,
          line(redLineage, '#ff1a00', 1),
          line(brownLineage, '#a35f3f', 1),
          line(blackLineage, '#000000', 1.3),
          line(darkGreyLineage, '#858585', 1.1),
          line(lightGreyLineage, '#b4b4b4', 1.1),
          hline(blackNicheOptimum, '#111111', []),
          hline(blackNicheBounds[0], '#555555', [1, 2]),
          hline(blackNicheBounds[1], '#555555', [1, 2]),
          hline(redNicheOptimum, '#ff3b30', []),
          hline(redNicheBounds[0], '#ff4d4d', [1, 2]),
          hline(redNicheBounds[1], '#ff4d4d', [1, 2]),
        ],
      },
      options: {
        animation: false,
        responsive: true,
        maintainAspectRatio: false,
        devicePixelRatio: 1,
        events: [],
        layout: { padding: { top: 14, right: 98, bottom: 0, left: 0 } },
        plugins: { legend: { display: false }, tooltip: { enabled: false } },
        scales: {
          x: {
            type: 'linear',
            min: X_MIN,
            max: X_MAX,
            afterBuildTicks: (s: any) => { s.ticks = xTickValues.map((v) => ({ value: v })); },
            afterFit: (s: any) => { s.height = 63; },
            ticks: {
              autoSkip: false,
              maxRotation: 0,
              minRotation: 0,
              padding: 11,
              color: '#222',
              font: { family: SANS, size: 12 },
              callback: (v: any) => String(v),
            },
            grid: { drawOnChartArea: false, drawTicks: true, tickLength: 8, color: '#555' },
            border: { display: false },
          },
          y: {
            type: 'linear',
            min: Y_MIN,
            max: Y_MAX,
            afterBuildTicks: (s: any) => { s.ticks = yTickValues.map((v) => ({ value: v })); },
            afterFit: (s: any) => { s.width = 60; },
            ticks: {
              autoSkip: false,
              minRotation: 90,
              maxRotation: 90,
              crossAlign: 'center',
              padding: -1,
              color: '#222',
              font: { family: SANS, size: 13 },
              callback: (v: any) => String(v),
            },
            grid: { drawOnChartArea: false, drawTicks: true, tickLength: 8, color: '#555' },
            border: { display: false },
          },
        },
      } as any,
      plugins: [decorations],
    });
    return () => chart.destroy();
  }, []);
  return (
    <div style={{ position: 'absolute', left: 0, top: 0, width: 1313, height: 990, background: '#fff' }}>
      <canvas ref={ref} />
    </div>
  );
}
